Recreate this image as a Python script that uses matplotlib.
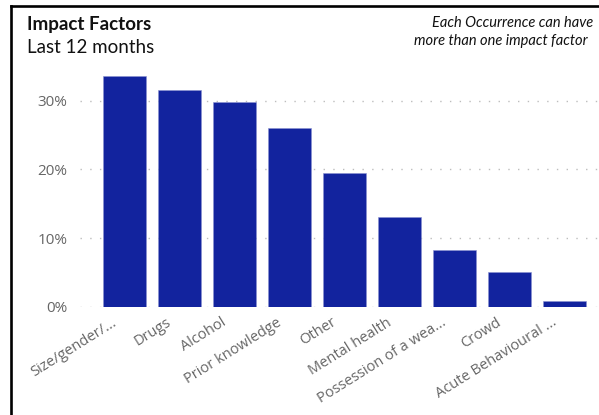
import matplotlib.pyplot as plt
import matplotlib.transforms as mtransforms
from matplotlib.lines import Line2D

# Share of occurrences by impact factor (%), last 12 months
factors = [
    "Size/gender/...",
    "Drugs",
    "Alcohol",
    "Prior knowledge",
    "Other",
    "Mental health",
    "Possession of a wea...",
    "Crowd",
    "Acute Behavioural ...",
]
shares = [33.6, 31.6, 29.8, 26.0, 19.5, 13.1, 8.25, 5.1, 0.9]
y_ticks = [0, 10, 20, 30]

bar_color = "#12239E"
grey = "#666666"

W, H = 599, 415
fig = plt.figure(figsize=(W / 100, H / 100), dpi=100)

# axes placed in pixel terms: plot area from x=80 to the right edge, baseline at y=307
ax = fig.add_axes([80 / W, (H - 306.7) / H, (W - 80) / W, (306.7 - 69.7) / H])
ax.set_xlim(-0.81, 8.63)
ax.set_ylim(0, 34.5)

x = range(len(factors))
ax.bar(x, shares, width=0.79, color=bar_color, edgecolor="#8a93d0", linewidth=0.4, zorder=3)

ax.set_yticks(y_ticks)
ax.set_yticklabels([f"{t}%" for t in y_ticks], fontfamily="Open Sans", fontsize=11, color=grey)
ax.yaxis.grid(True, linestyle=(0, (1, 6)), color="#bdbdbd", linewidth=1.0, zorder=0)
ax.tick_params(axis="y", length=0, pad=9)

ax.set_xticks(list(x))
ax.set_xticklabels(factors, rotation=32, ha="right", rotation_mode="anchor",
                   fontfamily="Open Sans", fontsize=10.5, color=grey)
ax.tick_params(axis="x", length=0, pad=6)
shift = mtransforms.ScaledTranslation(-13 / 100, 0, fig.dpi_scale_trans)
for lbl in ax.get_xticklabels():
    lbl.set_transform(lbl.get_transform() + shift)

for side in ["top", "right", "bottom", "left"]:
    ax.spines[side].set_visible(False)

# header texts
fig.text(27 / W, 1 - 30 / H, "Impact Factors", fontfamily="Lato", fontweight="bold",
         fontsize=13.5, color="#111111", va="baseline")
fig.text(27 / W, 1 - 53 / H, "Last 12 months", fontfamily="Lato",
         fontsize=13.5, color="#111111", va="baseline")
fig.text(432 / W, 1 - 27 / H, "Each Occurrence can have", fontfamily="Lato", style="italic",
         fontsize=10.5, color="#111111", ha="left", va="baseline")
fig.text(414 / W, 1 - 45 / H, "more than one impact factor", fontfamily="Lato", style="italic",
         fontsize=10.5, color="#111111", ha="left", va="baseline")

# frame lines on the left and top
fig.add_artist(Line2D([10.5 / W, 10.5 / W], [0, 1 - 6 / H], transform=fig.transFigure,
                      color="black", linewidth=1.9, solid_capstyle="projecting"))
fig.add_artist(Line2D([10.5 / W, 1], [1 - 6 / H, 1 - 6 / H], transform=fig.transFigure,
                      color="black", linewidth=1.9, solid_capstyle="projecting"))

fig.savefig("out.png", dpi=100)
